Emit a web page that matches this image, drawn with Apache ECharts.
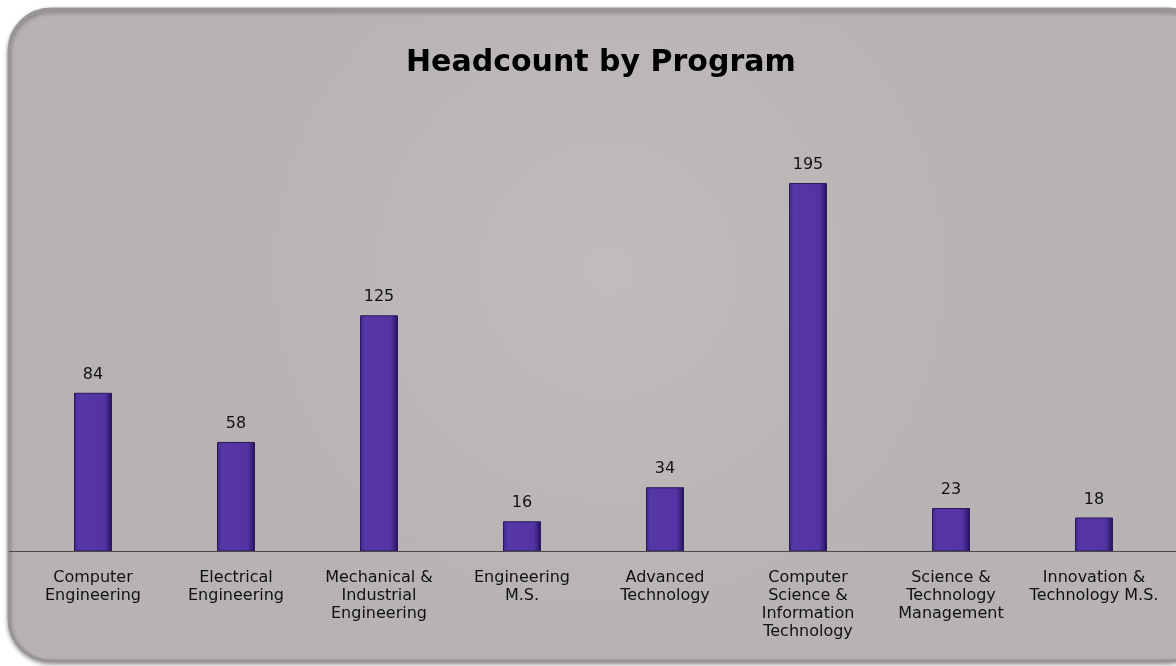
<!DOCTYPE html>
<html>
<head>
<meta charset="utf-8">
<script src="https://cdn.jsdelivr.net/npm/echarts@6/dist/echarts.min.js"></script>
<style>
  html, body { margin: 0; padding: 0; background: #ffffff; }
  #chart { width: 1176px; height: 666px; }
</style>
</head>
<body>
<div id="chart"></div>
<script>
var programs = [
    'Computer\nEngineering',
    'Electrical\nEngineering',
    'Mechanical &\nIndustrial\nEngineering',
    'Engineering\nM.S.',
    'Advanced\nTechnology',
    'Computer\nScience &\nInformation\nTechnology',
    'Science &\nTechnology\nManagement',
    'Innovation &\nTechnology M.S.'
];
var headcount = [84, 58, 125, 16, 34, 195, 23, 18];

var myChart = echarts.init(document.getElementById('chart'));

// bevelled purple bars
var barColor = new echarts.graphic.LinearGradient(0, 0, 1, 0, [
    { offset: 0, color: '#3f2488' },
    { offset: 0.12, color: '#5637a6' },
    { offset: 0.8, color: '#5434a2' },
    { offset: 0.92, color: '#3a2080' },
    { offset: 1, color: '#1e0f4a' }
]);

var option = {
    backgroundColor: '#ffffff',
    graphic: [
        {
            type: 'rect',
            z: -10,
            shape: { x: 9, y: 9, width: 1200, height: 652, r: 42 },
            style: {
                fill: new echarts.graphic.RadialGradient(0.5, 0.4, 0.6, [
                    { offset: 0, color: '#c0bcbc' },
                    { offset: 1, color: '#b7b3b3' }
                ]),
                stroke: '#9a9696',
                lineWidth: 3,
                shadowColor: 'rgba(0,0,0,0.35)',
                shadowBlur: 4,
                shadowOffsetY: 2
            }
        },
        {
            type: 'line',
            z: 5,
            shape: { x1: 9, y1: 551.5, x2: 1176, y2: 551.5 },
            style: { stroke: '#4a4a4a', lineWidth: 1 }
        }
    ],
    title: {
        text: 'Headcount by Program',
        left: 401,
        top: 43,
        textStyle: {
            fontFamily: 'DejaVu Sans',
            fontSize: 30,
            fontWeight: 'bold',
            color: '#000000'
        }
    },
    grid: {
        left: 21.5,
        right: 10.5,
        top: 173.6,
        bottom: 114.5
    },
    xAxis: {
        type: 'category',
        data: programs,
        axisLine: { show: true, lineStyle: { color: '#4a4a4a', width: 1 } },
        axisTick: { show: false },
        axisLabel: {
            interval: 0,
            margin: 17,
            fontFamily: 'DejaVu Sans',
            fontSize: 16,
            lineHeight: 18,
            color: '#111111'
        }
    },
    yAxis: {
        type: 'value',
        min: 0,
        max: 200,
        show: false,
        splitLine: { show: false }
    },
    series: [
        {
            type: 'bar',
            data: headcount,
            barWidth: 38,
            itemStyle: {
                color: barColor,
                borderColor: '#2a175c',
                borderWidth: 1
            },
            label: {
                show: true,
                position: 'top',
                distance: 10,
                fontFamily: 'DejaVu Sans',
                fontSize: 16,
                color: '#111111'
            }
        }
    ]
};

myChart.setOption(option);
</script>
</body>
</html>
